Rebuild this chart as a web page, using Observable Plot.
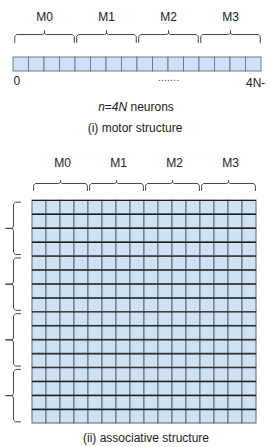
<!DOCTYPE html>
<html>
<head>
<meta charset="utf-8">
<script src="https://cdn.jsdelivr.net/npm/d3@7"></script>
<script src="https://cdn.jsdelivr.net/npm/@observablehq/plot@0.6"></script>
<style>
  html, body { margin: 0; padding: 0; background: #fff; }
  body { width: 270px; height: 447px; overflow: hidden; font-family: "Liberation Sans", Arial, sans-serif; color: #222; }
  svg { display: block; overflow: hidden; }
  .cap { width: 270px; height: 16px; line-height: 16px; font-size: 12px; text-align: center; white-space: nowrap; }
</style>
</head>
<body>
<div id="motor"></div>
<div class="cap" id="neurons" style="margin-top:7px;padding-left:2px;box-sizing:border-box"></div>
<div class="cap" id="cap1" style="margin-top:5px"></div>
<div id="assoc"></div>
<div class="cap" id="cap2" style="padding-left:22px;box-sizing:border-box"></div>
<script>
// ---- data ----
const modules = ["M0", "M1", "M2", "M3"];
const neuronsPerModule = 4;
const rowGroups = ["A0", "A1", "A2", "A3"];
const rowsPerGroup = 4;
const endLabels = ["0", "4N-"];
const ellipsis = ".......";
const neuronsText = ["n", "=4N", " neurons"];
const captions = ["(i) motor structure", "(ii) associative structure"];

// ---- derived ----
const nCols = modules.length * neuronsPerModule;
const nRows = rowGroups.length * rowsPerGroup;
const font = "Liberation Sans, Arial, sans-serif";
const fill = "#cfe2f3";

// brace pointing up (horizontal) from a to b
function braceUp(a, b, yE, yH, yT, k) {
  const m = (a + b) / 2, r = 0.12, ry = (yE - yH) * 0.25;
  return [[a, yE], [a, yH + ry], [a + r, yH], [m - r, yH], [m, yH - ry * 0.6], [m, yT],
          [m, yH - ry * 0.6], [m + r, yH], [b - r, yH], [b, yH + ry], [b, yE]].map(([x, y]) => ({x, y, k}));
}
// brace pointing left (vertical) from a to b
function braceLeft(a, b, xE, xH, xT, k) {
  const m = (a + b) / 2, r = 0.15, rx = (xE - xH) * 0.3;
  return [[xE, a], [xH + rx, a], [xH, a + r], [xH, m - r], [xH - rx * 0.6, m], [xT, m],
          [xH - rx * 0.6, m], [xH, m + r], [xH, b - r], [xH + rx, b], [xE, b]].map(([x, y]) => ({x, y, k}));
}

// ---- (i) motor structure ----
const stripCells = d3.range(nCols).map(i => ({i}));
const braces1 = modules.flatMap((m, j) => braceUp(j * neuronsPerModule + 0.08, (j + 1) * neuronsPerModule - 0.08, -1.07, -1.64, -1.93, m));
const motor = Plot.plot({
  width: 270, height: 92,
  marginTop: 0, marginBottom: 0, marginLeft: 0, marginRight: 0,
  x: {domain: [0, nCols], range: [13, 261], axis: null},
  y: {domain: [-4, 2.45], range: [1, 91.3], axis: null},
  style: {fontFamily: font, background: "transparent", overflow: "hidden"},
  marks: [
    Plot.rect(stripCells, {x1: d => d.i, x2: d => d.i + 1, y1: () => 0, y2: () => 1, fill, stroke: "#707c88", strokeWidth: 1}),
    Plot.line(braces1, {x: "x", y: "y", z: "k", stroke: "#444", strokeWidth: 1}),
    Plot.text(modules, {x: (d, i) => i * neuronsPerModule + neuronsPerModule / 2, y: () => -2.86, text: d => d, fontSize: 12, fill: "#222"}),
    Plot.text([endLabels[0]], {x: () => 0, y: () => 1.66, text: d => d, textAnchor: "start", fontSize: 12, fill: "#222"}),
    Plot.text([endLabels[1]], {x: () => nCols - 1, y: () => 1.8, text: d => d, textAnchor: "start", fontSize: 12, fill: "#222"}),
    Plot.text([ellipsis], {x: () => 10, y: () => 1.45, text: d => d, fontSize: 11, fill: "#555"})
  ]
});
document.getElementById("motor").append(motor);

document.getElementById("neurons").innerHTML = "<i>" + neuronsText[0] + "</i>=" + "<i>4N</i>" + neuronsText[2];
document.getElementById("cap1").textContent = captions[0];
document.getElementById("cap2").textContent = captions[1];

// ---- (ii) associative structure ----
const gridCells = d3.cross(d3.range(nRows), d3.range(nCols)).map(([r, c]) => ({r, c}));
const braces2 = modules.flatMap((m, j) => braceUp(j * neuronsPerModule + 0.08, (j + 1) * neuronsPerModule - 0.08, -0.72, -1.22, -1.45, m));
const braces3 = rowGroups.flatMap((g, j) => braceLeft(j * rowsPerGroup + 0.12, (j + 1) * rowsPerGroup - 0.12, -0.86, -1.36, -1.93, g));
const unit = 223 / nRows;
const assoc = Plot.plot({
  width: 270, height: 294,
  marginTop: 0, marginBottom: 0, marginLeft: 0, marginRight: 0,
  x: {domain: [0, nCols], range: [32, 256], axis: null},
  y: {domain: [-4.5, 16.4], range: [64 - 4.5 * unit, 64 + 16.4 * unit], axis: null},
  style: {fontFamily: font, background: "transparent", overflow: "hidden"},
  marks: [
    Plot.rect(gridCells, {x1: d => d.c, x2: d => d.c + 1, y1: d => d.r, y2: d => d.r + 1, fill, stroke: "#5c6670", strokeWidth: 1}),
    Plot.ruleY(d3.range(0, nRows), {x1: () => 0, x2: () => nCols, y: d => d, stroke: "#1e1e1e", strokeWidth: 1.2}),
    Plot.line(braces2, {x: "x", y: "y", z: "k", stroke: "#444", strokeWidth: 1}),
    Plot.line(braces3, {x: "x", y: "y", z: "k", stroke: "#444", strokeWidth: 1}),
    Plot.text(modules, {x: (d, i) => i * neuronsPerModule + neuronsPerModule / 2 + 0.15, y: () => -2.65, text: d => d, fontSize: 12, fill: "#222"})
  ]
});
document.getElementById("assoc").append(assoc);
</script>
</body>
</html>
